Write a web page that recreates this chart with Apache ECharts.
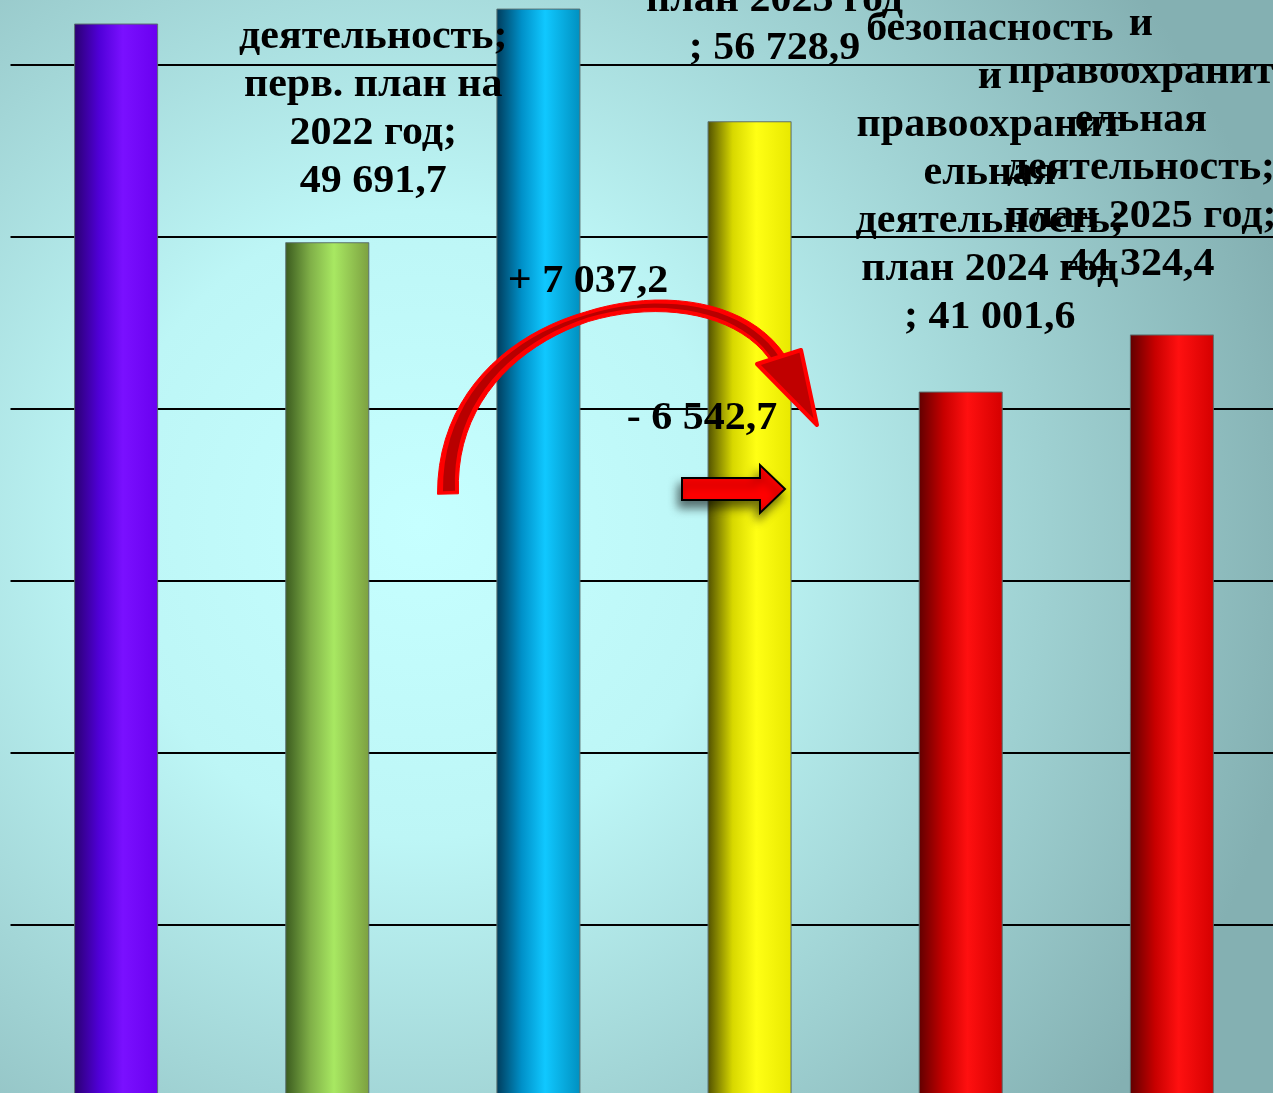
<!DOCTYPE html>
<html>
<head>
<meta charset="utf-8">
<script src="https://cdn.jsdelivr.net/npm/echarts@6/dist/echarts.min.js"></script>
<style>
  html, body { margin: 0; padding: 0; }
  #chart { width: 1273px; height: 1093px; }
</style>
</head>
<body>
<div id="chart"></div>
<script>
// данные диаграммы
const categories = ['2020', '2021', 'перв. план 2022', 'план 2023', 'план 2024', 'план 2025'];
const values = [62410, 49691.7, 63280, 56728.9, 41001.6, 44324.4];
const labelLines = [
  [],
  ['деятельность;', 'перв. план на', '2022 год;', '{v}'],
  [],
  ['план 2023 год', '; {v}'],
  ['безопасность', 'и', 'правоохранит', 'ельная', 'деятельность;', 'план 2024 год', '; {v}'],
  ['безопасность', 'и', 'правоохранит', 'ельная', 'деятельность;', 'план 2025 год;', '{v}']
];
const deltaTexts = ['+ 7 037,2', '- 6 542,7'];

// оформление
const labelOffsets = [[0, 0], [46, -37], [0, 0], [25, -49], [29, -50], [-31, -46]];
const barColors = [
  ['#2a0070', '#5000d8', '#7a10ff', '#6a00f0'],
  ['#3a5a1e', '#80b048', '#a8e862', '#7ca040'],
  ['#003c5c', '#0090c8', '#10c8ff', '#0090c0'],
  ['#505000', '#d8d800', '#ffff14', '#e8e800'],
  ['#600000', '#c80000', '#ff1010', '#d40000'],
  ['#600000', '#c80000', '#ff1010', '#d40000']
];
const textFont = 'bold 40px "Liberation Serif", "Times New Roman", serif';
const textScaleX = 1.05;

function fmt(v) {
  const parts = v.toFixed(1).split('.');
  const int = parts[0].replace(/\B(?=(\d{3})+(?!\d))/g, ' ');
  return `${int},${parts[1]}`;
}

// сужающаяся дуга стрелки
function curvedBand(p0, c1, c2, p3, widths) {
  const left = [], right = [];
  const n = 40;
  for (let k = 0; k <= n; k++) {
    const t = k / n, u = 1 - t;
    const x = u * u * u * p0[0] + 3 * u * u * t * c1[0] + 3 * u * t * t * c2[0] + t * t * t * p3[0];
    const y = u * u * u * p0[1] + 3 * u * u * t * c1[1] + 3 * u * t * t * c2[1] + t * t * t * p3[1];
    const dx = 3 * u * u * (c1[0] - p0[0]) + 6 * u * t * (c2[0] - c1[0]) + 3 * t * t * (p3[0] - c2[0]);
    const dy = 3 * u * u * (c1[1] - p0[1]) + 6 * u * t * (c2[1] - c1[1]) + 3 * t * t * (p3[1] - c2[1]);
    const len = Math.hypot(dx, dy) || 1;
    const w = t < 0.5
      ? widths[0] + (widths[1] - widths[0]) * (t / 0.5)
      : widths[1] + (widths[2] - widths[1]) * ((t - 0.5) / 0.5);
    const nx = -dy / len * w / 2, ny = dx / len * w / 2;
    left.push([x + nx, y + ny]);
    right.push([x - nx, y - ny]);
  }
  return left.concat(right.reverse());
}

const arcP0 = [448, 494], arcC1 = [444, 306], arcC2 = [712, 254], arcP3 = [779, 360];

const chart = echarts.init(document.getElementById('chart'));

const seriesData = values.map((v, i) => ({
  value: v,
  itemStyle: {
    color: new echarts.graphic.LinearGradient(0, 0, 1, 0, [
      { offset: 0, color: barColors[i][0] },
      { offset: 0.3, color: barColors[i][1] },
      { offset: 0.58, color: barColors[i][2] },
      { offset: 1, color: barColors[i][3] }
    ])
  }
}));

const arrows = [
  {
    type: 'polygon',
    z: 10,
    shape: { points: curvedBand(arcP0, arcC1, arcC2, arcP3, [21, 10, 15]) },
    style: { fill: '#ff0000', stroke: '#ff0000', lineWidth: 1 }
  },
  {
    type: 'polygon',
    z: 11,
    shape: { points: curvedBand([449, 491], arcC1, arcC2, [777, 360], [12, 3, 7]) },
    style: { fill: '#b80000' }
  },
  {
    type: 'polygon',
    z: 12,
    shape: { points: [[757, 364], [801, 350], [817, 425]] },
    style: { fill: '#c00000', stroke: '#ff0000', lineWidth: 4, lineJoin: 'round' }
  },
  {
    type: 'polygon',
    z: 12,
    shape: { points: [[682, 478], [760, 478], [760, 465], [785, 489], [760, 513], [760, 500], [682, 500]] },
    style: {
      fill: '#ff0000', stroke: '#000', lineWidth: 2,
      shadowBlur: 10, shadowColor: 'rgba(0,0,0,0.55)', shadowOffsetX: -3, shadowOffsetY: 7
    }
  }
];

const option = {
  backgroundColor: {
    type: 'radial',
    x: 0.33,
    y: 0.48,
    r: 0.82,
    colorStops: [
      { offset: 0, color: '#c6ffff' },
      { offset: 0.35, color: '#bdf6f6' },
      { offset: 1, color: '#84b0b2' }
    ]
  },
  animation: false,
  grid: { left: 10.5, right: -4.5, top: -106.9, bottom: -3.4, outerBoundsMode: 'none' },
  xAxis: {
    type: 'category',
    data: categories,
    axisLine: { show: false },
    axisTick: { show: false },
    axisLabel: { show: false }
  },
  yAxis: {
    type: 'value',
    min: 0,
    max: 70000,
    interval: 10000,
    axisLabel: { show: false },
    axisLine: { show: false },
    axisTick: { show: false },
    splitLine: { lineStyle: { color: '#000', width: 2 } }
  },
  series: [{
    type: 'bar',
    barWidth: 84,
    itemStyle: { borderColor: 'rgba(90,110,110,0.6)', borderWidth: 1 },
    data: seriesData
  }],
  graphic: arrows
};

chart.setOption(option);

// подписи: позиция через шкалы графика, чуть растянуты по горизонтали как в оригинале
const texts = [];
values.forEach((v, i) => {
  if (!labelLines[i].length) return;
  const p = chart.convertToPixel({ seriesIndex: 0 }, [i, v]);
  texts.push({
    type: 'text',
    z: 13,
    x: p[0] + labelOffsets[i][0],
    y: p[1] + labelOffsets[i][1],
    scaleX: textScaleX,
    style: {
      text: labelLines[i].join('\n').replace('{v}', fmt(v)),
      align: 'center',
      verticalAlign: 'bottom',
      lineHeight: 48,
      font: textFont,
      fill: '#000'
    }
  });
});
texts.push({
  type: 'text', z: 13, x: 588, y: 282, scaleX: textScaleX,
  style: { text: deltaTexts[0], align: 'center', verticalAlign: 'middle', font: textFont, fill: '#000' }
});
texts.push({
  type: 'text', z: 13, x: 702, y: 419, scaleX: textScaleX,
  style: { text: deltaTexts[1], align: 'center', verticalAlign: 'middle', font: textFont, fill: '#000' }
});
chart.setOption({ graphic: arrows.concat(texts) });
</script>
</body>
</html>
